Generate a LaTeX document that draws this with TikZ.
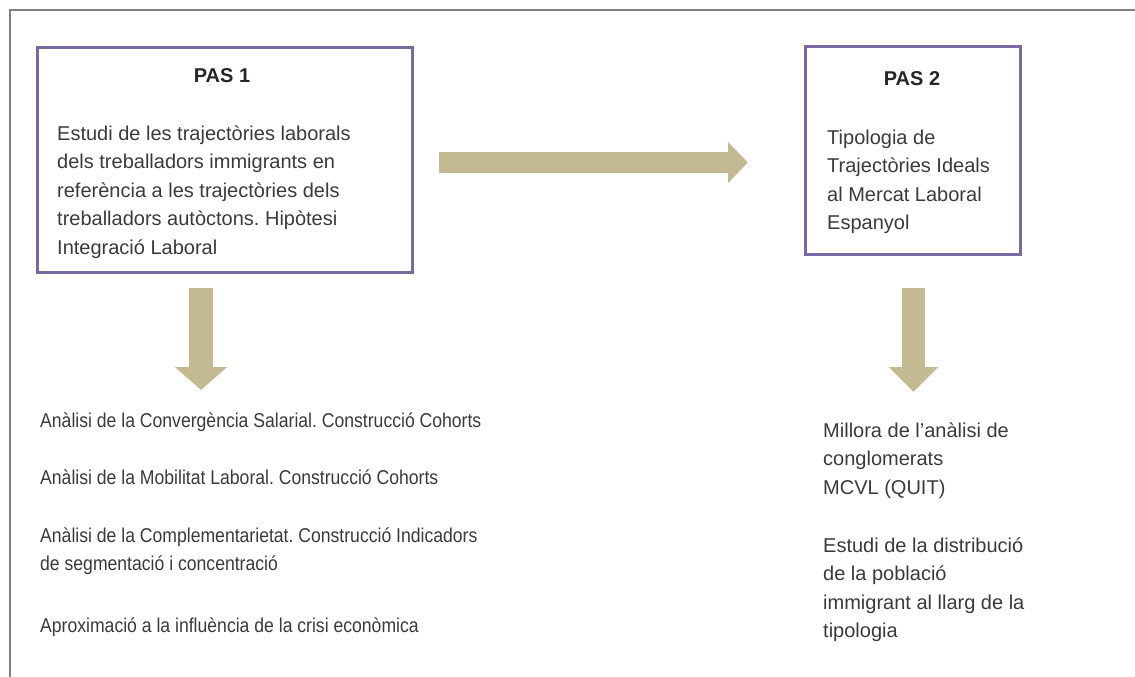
\documentclass[tikz,border=0pt]{standalone}
\usepackage{fontspec}
\setmainfont{Liberation Sans}
\newfontfamily\narrowsans[FakeStretch=0.88]{Liberation Sans}
\usetikzlibrary{arrows.meta}
\frenchspacing
\definecolor{boxpurple}{RGB}{122,104,162}
\definecolor{khaki}{RGB}{196,186,146}
\definecolor{framegray}{RGB}{128,128,128}
\definecolor{txt}{RGB}{58,58,58}
\tikzset{
  stepbox/.style={draw=boxpurple, line width=3pt, rectangle, inner sep=0pt},
  bodytxt/.style={anchor=base west, align=left, inner sep=0pt, text=txt,
     font=\fontsize{20}{28.5}\selectfont},
  lowtxt/.style={anchor=base west, align=left, inner sep=0pt, text=txt,
     font=\narrowsans\fontsize{20}{28.5}\selectfont},
  titletxt/.style={anchor=base, inner sep=0pt, text=black!85,
     font=\bfseries\fontsize{20}{24}\selectfont},
  bigarrow/.style={draw=khaki, line cap=butt}
}
\begin{document}
\begin{tikzpicture}[x=1pt,y=-1pt]
\useasboundingbox (0,0) rectangle (1135,677);
% outer frame (top and left edges)
\coordinate (fa) at (10,700);
\coordinate (fb) at (10,10);
\coordinate (fc) at (1140,10);
\draw[framegray, line width=2pt] (fa) -- (fb) -- (fc);
% boxes
\node[stepbox, minimum width=375pt, minimum height=224pt] (pas1) at (224.5,160) {};
\node[stepbox, minimum width=215pt, minimum height=207pt] (pas2) at (912.5,150.5) {};
% titles
\node[titletxt] (t1) at (222,82) {PAS 1};
\node[titletxt] (t2) at (912,85) {PAS 2};
% box texts (anchored at the baseline of the last line)
\node[bodytxt] (b1) at (57,254) {Estudi de les trajectòries laborals\\dels treballadors immigrants en\\referència a les trajectòries dels\\treballadors autòctons. Hipòtesi\\Integració Laboral};
\node[bodytxt] (b2) at (827,229.5) {Tipologia de\\Trajectòries Ideals\\al Mercat Laboral\\Espanyol};
% lower left texts
\node[lowtxt] (l1) at (40,427) {Anàlisi de la Convergència Salarial. Construcció Cohorts};
\node[lowtxt] (l2) at (40,484) {Anàlisi de la Mobilitat Laboral. Construcció Cohorts};
\node[lowtxt] (l3) at (40,570.5) {Anàlisi de la Complementarietat. Construcció Indicadors\\de segmentació i concentració};
\node[lowtxt] (l4) at (40,632) {Aproximació a la influència de la crisi econòmica};
% lower right texts
\node[bodytxt] (r1) at (823,494) {Millora de l’anàlisi de\\conglomerats\\MCVL (QUIT)};
\node[bodytxt] (r2) at (823,637.5) {Estudi de la distribució\\de la població\\immigrant al llarg de la\\tipologia};
% arrows
\coordinate (ha) at (439,162.5);
\coordinate (hb) at (748,162.5);
\draw[bigarrow, line width=21pt, -{Triangle[width=40pt,length=20pt]}] (ha) -- (hb);
\coordinate (da) at (201,288);
\coordinate (db) at (201,390);
\draw[bigarrow, line width=24pt, -{Triangle[width=51pt,length=23pt]}] (da) -- (db);
\coordinate (ea) at (913.5,288);
\coordinate (eb) at (913.5,392);
\draw[bigarrow, line width=23pt, -{Triangle[width=48pt,length=25pt]}] (ea) -- (eb);
\end{tikzpicture}
\end{document}
